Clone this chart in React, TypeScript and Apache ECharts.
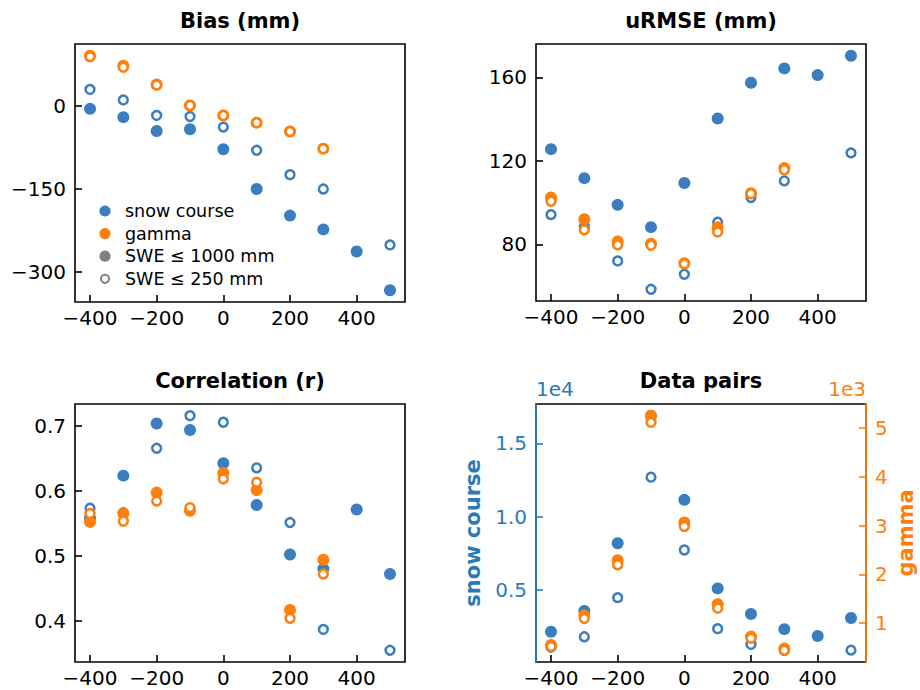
import React, { useEffect, useRef } from "react";
import * as echarts from "echarts";

// Elevation offset bins (m)
const BINS = [-400, -300, -200, -100, 0, 100, 200, 300, 400, 500];

// Bias (mm)
const biasSnowAll = [-5, -20, -45, -42, -78, -150, -198, -223, -263, -333];
const biasSnowShallow = [30, 11, -17, -19, -38, -80, -124, -150, null, -251];
const biasGammaAll = [91, 73, 39, 1, -17, -30, -46, -77];
const biasGammaShallow = [89, 70, 38, 1, -17, -30, -46, -77];

// uRMSE (mm)
const urmseSnowAll = [125.6, 111.7, 98.9, 88.2, 109.4, 140.3, 157.4, 164.3, 161.1, 170.4];
const urmseSnowShallow = [94.2, 88.5, 72, 58.4, 65.6, 90.6, 102.4, 110.4, null, 123.8];
const urmseGammaAll = [102.4, 92, 81.3, 80.3, 70.9, 88.2, 104.5, 116.5];
const urmseGammaShallow = [100.6, 86.9, 79.7, 79.5, 70.6, 85.9, 104.2, 115.7];

// Correlation (r)
const corrSnowAll = [0.558, 0.623, 0.703, 0.693, 0.642, 0.578, 0.502, 0.48, 0.571, 0.472];
const corrSnowShallow = [0.573, 0.566, 0.665, 0.715, 0.705, 0.635, 0.551, 0.387, null, 0.355];
const corrGammaAll = [0.552, 0.565, 0.597, 0.569, 0.627, 0.601, 0.417, 0.494];
const corrGammaShallow = [0.565, 0.553, 0.584, 0.574, 0.618, 0.613, 0.404, 0.472];

// Data pairs (counts)
const pairsSnowAll = [2150, 3570, 8190, 16890, 11150, 5110, 3360, 2330, 1860, 3090];
const pairsSnowShallow = [1100, 1810, 4480, 12700, 7730, 2360, 1290, 890, null, 900];
const pairsGammaAll = [556, 1164, 2292, 5253, 3065, 1390, 726, 480];
const pairsGammaShallow = [521, 1096, 2197, 5116, 2983, 1308, 692, 446];

// Tick labels
const xTicks = [-400, -200, 0, 200, 400];
const biasTicks = [-300, -150, 0];
const urmseTicks = [80, 120, 160];
const corrTicks = [0.4, 0.5, 0.6, 0.7];
const snowPairTicks = [5000, 10000, 15000];
const gammaPairTicks = [1000, 2000, 3000, 4000, 5000];

const BLUE = "#3a7ebf";
const ORANGE = "#fd800f";
const AX_BLUE = "#2a7ab8";
const AX_ORANGE = "#ff7f0e";
const FONT = "DejaVu Sans";
const TICK_FS = 20;

const pad = (vals: (number | null)[]) => {
  const v = vals.filter((d) => d !== null) as number[];
  const lo = Math.min(...v);
  const hi = Math.max(...v);
  const m = (hi - lo) * 0.05;
  return { min: lo - m, max: hi + m };
};

const minus = (v: number) => (v < 0 ? "\u2212" + Math.abs(v) : String(v));

const pts = (ys: (number | null)[]) =>
  ys.map((y, i) => (y === null ? null : [BINS[i], y])).filter((p) => p !== null);

const App: React.FC = () => {
  const ref = useRef<HTMLDivElement>(null);

  useEffect(() => {
    if (!ref.current) return;
    const chart = echarts.init(ref.current, undefined, { renderer: "svg" });

    const xRange = pad(BINS);
    const grids = [
      { left: 75, top: 44, width: 330, height: 258 },
      { left: 536, top: 44, width: 330, height: 257 },
      { left: 75, top: 404, width: 330, height: 258 },
      { left: 536, top: 404, width: 330, height: 258 },
    ].map((g) => ({ ...g, show: true, borderColor: "#000", borderWidth: 1.6, backgroundColor: "transparent" }));

    const tickStyle = (color: string) => ({
      show: true,
      inside: true,
      length: 7,
      lineStyle: { color, width: 1.6 },
    });

    const xAxes = [0, 1, 2, 3].map((g) => ({
      type: "value",
      gridIndex: g,
      position: "bottom",
      min: xRange.min,
      max: xRange.max,
      axisLine: { show: false, onZero: false },
      splitLine: { show: false },
      axisTick: { ...tickStyle("#000"), customValues: xTicks },
      axisLabel: {
        customValues: xTicks,
        formatter: (v: number) => minus(v),
        fontSize: TICK_FS,
        fontFamily: FONT,
        color: "#000",
        margin: 6,
      },
    }));

    const yAxis = (
      g: number,
      range: { min: number; max: number },
      ticks: number[],
      fmt: (v: number) => string,
      color = "#000",
      position = "left",
      showLine = false
    ) => ({
      type: "value",
      gridIndex: g,
      position,
      min: range.min,
      max: range.max,
      axisLine: { show: showLine, onZero: false, lineStyle: { color, width: 1.8 } },
      splitLine: { show: false },
      axisTick: { ...tickStyle(color), customValues: ticks },
      axisLabel: {
        customValues: ticks,
        formatter: fmt,
        fontSize: TICK_FS,
        fontFamily: FONT,
        color,
        margin: 9,
      },
    });

    const yAxes = [
      yAxis(0, pad([...biasSnowAll, ...biasSnowShallow, ...biasGammaAll, ...biasGammaShallow]), biasTicks, minus),
      yAxis(1, pad([...urmseSnowAll, ...urmseSnowShallow, ...urmseGammaAll, ...urmseGammaShallow]), urmseTicks, (v) => String(v)),
      yAxis(2, pad([...corrSnowAll, ...corrSnowShallow, ...corrGammaAll, ...corrGammaShallow]), corrTicks, (v) => v.toFixed(1)),
      yAxis(3, pad([...pairsSnowAll, ...pairsSnowShallow]), snowPairTicks, (v) => (v / 1e4).toFixed(1), AX_BLUE, "left", true),
      yAxis(3, pad([...pairsGammaAll, ...pairsGammaShallow]), gammaPairTicks, (v) => String(v / 1e3), AX_ORANGE, "right", true),
    ];

    const filled = (name: string, ys: (number | null)[], color: string, axis: number, yIdx: number) => ({
      type: "scatter",
      name,
      xAxisIndex: axis,
      yAxisIndex: yIdx,
      data: pts(ys),
      symbol: "circle",
      symbolSize: 12,
      itemStyle: { color, opacity: 1 },
      silent: true,
    });
    const hollow = (name: string, ys: (number | null)[], color: string, axis: number, yIdx: number) => ({
      type: "scatter",
      name,
      xAxisIndex: axis,
      yAxisIndex: yIdx,
      data: pts(ys),
      symbol: "circle",
      symbolSize: 8.8,
      itemStyle: { color: "#fff", borderColor: color, borderWidth: 2.5, opacity: 1 },
      silent: true,
    });

    const panels: [(number | null)[], (number | null)[], (number | null)[], (number | null)[], number][] = [
      [biasSnowAll, biasSnowShallow, biasGammaAll, biasGammaShallow, 0],
      [urmseSnowAll, urmseSnowShallow, urmseGammaAll, urmseGammaShallow, 1],
      [corrSnowAll, corrSnowShallow, corrGammaAll, corrGammaShallow, 2],
    ];
    const series: any[] = [];
    panels.forEach(([sa, ss, ga, gs, i]) => {
      series.push(filled("snow course", sa, BLUE, i, i));
      series.push(hollow("snow course shallow", ss, BLUE, i, i));
      series.push(filled("gamma", ga, ORANGE, i, i));
      series.push(hollow("gamma shallow", gs, ORANGE, i, i));
    });
    series.push(filled("snow course", pairsSnowAll, BLUE, 3, 3));
    series.push(hollow("snow course shallow", pairsSnowShallow, BLUE, 3, 3));
    series.push(filled("gamma", pairsGammaAll, ORANGE, 3, 4));
    series.push(hollow("gamma shallow", pairsGammaShallow, ORANGE, 3, 4));

    const title = (text: string, x: number, y: number) => ({
      type: "text",
      x,
      y,
      style: { text, fontFamily: FONT, fontWeight: "bold", fontSize: 21, fill: "#000", textAlign: "center", textVerticalAlign: "middle" },
    });

    const legendRows = [
      { label: "snow course", kind: "fill", color: BLUE },
      { label: "gamma", kind: "fill", color: ORANGE },
      { label: "SWE \u2264 1000 mm", kind: "fill", color: "#808080" },
      { label: "SWE \u2264 250 mm", kind: "ring", color: "#808080" },
    ];
    const legend: any[] = [];
    legendRows.forEach((r, i) => {
      const y = 211 + i * 22.6;
      legend.push(
        r.kind === "fill"
          ? { type: "circle", shape: { cx: 105, cy: y, r: 5.6 }, style: { fill: r.color } }
          : { type: "circle", shape: { cx: 105, cy: y, r: 4.1 }, style: { fill: "#fff", stroke: r.color, lineWidth: 2 } }
      );
      legend.push({
        type: "text",
        x: 125,
        y,
        style: { text: r.label, fontFamily: FONT, fontSize: 17.5, fill: "#000", textVerticalAlign: "middle" },
      });
    });

    chart.setOption({
      animation: false,
      backgroundColor: "#fff",
      grid: grids,
      xAxis: xAxes,
      yAxis: yAxes,
      series,
      graphic: [
        title("Bias (mm)", 240, 21),
        title("uRMSE (mm)", 701, 21),
        title("Correlation (r)", 240, 381),
        title("Data pairs", 701, 381),
        {
          type: "text",
          x: 536,
          y: 389,
          style: { text: "1e4", fontFamily: FONT, fontSize: TICK_FS, fill: AX_BLUE, textVerticalAlign: "middle" },
        },
        {
          type: "text",
          x: 866,
          y: 389,
          style: { text: "1e3", fontFamily: FONT, fontSize: TICK_FS, fill: AX_ORANGE, textAlign: "right", textVerticalAlign: "middle" },
        },
        {
          type: "text",
          x: 473,
          y: 533,
          rotation: Math.PI / 2,
          style: { text: "snow course", fontFamily: FONT, fontWeight: "bold", fontSize: 21, fill: AX_BLUE, textAlign: "center", textVerticalAlign: "middle" },
        },
        {
          type: "text",
          x: 906,
          y: 533,
          rotation: Math.PI / 2,
          style: { text: "gamma", fontFamily: FONT, fontWeight: "bold", fontSize: 21, fill: AX_ORANGE, textAlign: "center", textVerticalAlign: "middle" },
        },
        ...legend,
      ],
    });

    return () => chart.dispose();
  }, []);

  return <div ref={ref} style={{ position: "fixed", left: 0, top: 0, width: 920, height: 690 }} />;
};

export default App;
